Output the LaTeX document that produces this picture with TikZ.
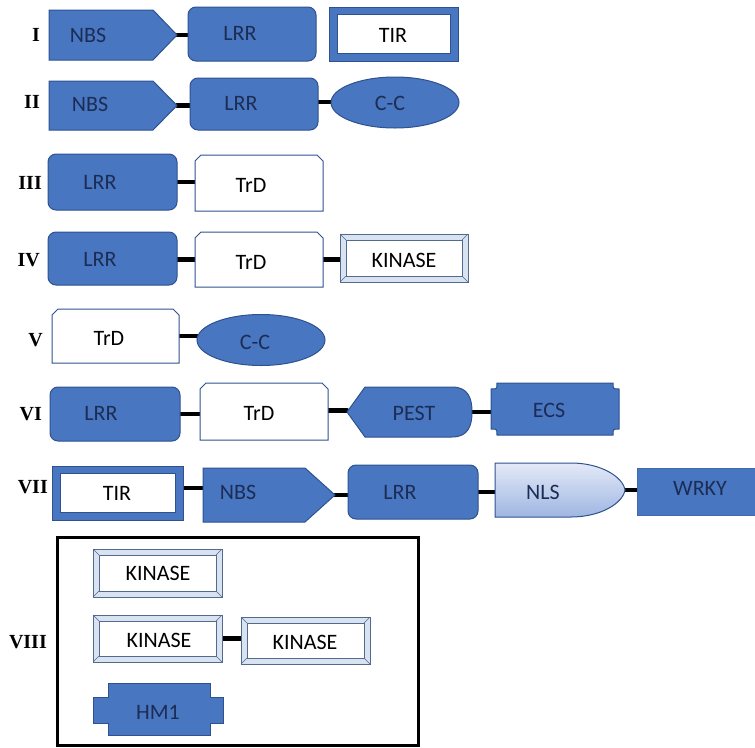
\documentclass[tikz,border=0pt]{standalone}
\usepackage{fontspec}
\setmainfont{Carlito}
\newfontfamily\romfont{Liberation Serif}
\usetikzlibrary{calc}
\definecolor{bfill}{RGB}{72,118,192}
\definecolor{bline}{RGB}{47,82,143}
\definecolor{btext}{RGB}{28,45,85}
\definecolor{kline}{RGB}{82,106,142}
\definecolor{kband}{RGB}{216,226,240}
\definecolor{nlstop}{RGB}{228,233,247}
\definecolor{nlsbot}{RGB}{158,182,226}
\newcommand{\mkbox}[5]{\node[box, minimum width={#3-#2}, minimum height={#5-#4}] (#1) at ({(#2+#3)/2},{(#4+#5)/2}) {};}
\newcommand{\nbsshape}[2]{\draw[bluebox] (#1.north west) -- ($(#1.north east)+(-#2,0)$) -- (#1.east) -- ($(#1.south east)+(-#2,0)$) -- (#1.south west) -- cycle;}
\newcommand{\lrrshape}[1]{\draw[bluebox, rounded corners=8pt] (#1.north west) rectangle (#1.south east);}
\newcommand{\tirshape}[1]{\draw[bluebox] (#1.north west) rectangle (#1.south east);
  \draw[fill=white, draw=bline, line width=0.8pt] ($(#1.north west)+(8,7)$) rectangle ($(#1.south east)+(-8,-8)$);}
\newcommand{\trdshape}[1]{\draw[fill=white, draw=bline, line width=1pt] (#1.south west) -- ($(#1.north west)+(0,6)$) -- ($(#1.north west)+(6,0)$) -- ($(#1.north east)+(-6,0)$) -- ($(#1.north east)+(0,6)$) -- (#1.south east) -- cycle;}
\newcommand{\kinshape}[1]{\draw[fill=kband, draw=kline, line width=0.9pt] (#1.north west) rectangle (#1.south east);
  \draw[fill=white, draw=kline, line width=0.9pt] ($(#1.north west)+(6,6)$) rectangle ($(#1.south east)+(-6,-6)$);
  \draw[kline, line width=0.6pt] (#1.north west) -- ++(6,6) (#1.north east) -- ++(-6,6) (#1.south west) -- ++(6,-6) (#1.south east) -- ++(-6,-6);}
\newcommand{\ccshape}[1]{\draw[bluebox] (#1.center) ellipse [x radius=64, y radius=25.5];}
\begin{document}
\begin{tikzpicture}[x=1pt,y=-1pt,
  box/.style={rectangle, inner sep=0pt, outer sep=0pt, draw=none},
  bluebox/.style={fill=bfill, draw=bline, line width=1pt},
  conn/.style={line width=4.5pt, line cap=round, black},
  btxt/.style={inner sep=0pt, text=btext, font=\fontsize{22}{26}\selectfont},
  ktxt/.style={inner sep=0pt, text=black, font=\fontsize{22}{26}\selectfont},
  rom/.style={inner sep=0pt, anchor=east, text=black, font=\romfont\bfseries\fontsize{20}{24}\selectfont}]
\useasboundingbox (0,0) rectangle (755,747);
% ---- boxes (invisible anchors)
\mkbox{nbsA}{49}{177}{10}{60}
\mkbox{lrrA}{188}{316}{7}{61}
\mkbox{tirA}{329}{458}{7}{61}
\mkbox{nbsB}{49}{177}{81}{130}
\mkbox{lrrB}{190}{318}{78}{130}
\mkbox{ccB}{331}{459}{77}{128}
\mkbox{lrrC}{48}{177}{154}{210}
\mkbox{trdC}{195}{323}{155}{211}
\mkbox{lrrD}{48}{177}{232}{285}
\mkbox{trdD}{195}{323}{232}{287}
\mkbox{kinD}{340}{468}{234}{282}
\mkbox{trdE}{52}{179}{309}{363}
\mkbox{ccE}{197}{325}{313}{367}
\mkbox{lrrF}{50}{180}{387}{441}
\mkbox{trdF}{200}{328}{383}{440}
\mkbox{pestF}{347}{472}{387}{437}
\mkbox{ecsF}{491}{619}{383}{435}
\mkbox{tirG}{52}{183}{466}{520}
\mkbox{nbsG}{203}{335}{468}{522}
\mkbox{lrrG}{348}{478}{465}{519}
\mkbox{nlsG}{495}{625}{463}{517}
\mkbox{wrkyG}{637}{758}{468}{515}
\mkbox{frameH}{57}{418}{537}{745}
\mkbox{kinHa}{93}{222}{549}{597}
\mkbox{kinHb}{93}{222}{615}{662}
\mkbox{kinHc}{241}{370}{617}{664}
\mkbox{hmH}{93}{223}{683}{735}
% ---- connectors (under shapes)
\draw[conn] (nbsA.east) -- (nbsA.east -| lrrA.west);
\draw[conn] (nbsB.east) -- (nbsB.east -| lrrB.west);
\draw[conn] ($(lrrB.east)+(0,-2)$) -- ($(lrrB.east -| ccB.west)+(0,-2)$);
\draw[conn] (lrrC.east) -- (lrrC.east -| trdC.west);
\draw[conn] ($(lrrD.east)+(0,1)$) -- ($(lrrD.east -| trdD.west)+(0,1)$);
\draw[conn] (trdD.east) -- (trdD.east -| kinD.west);
\draw[conn] (trdE.east) -- (trdE.east -| ccE.west);
\draw[conn] (lrrF.east) -- (lrrF.east -| trdF.west);
\draw[conn] ($(trdF.east)+(0,-1)$) -- ($(trdF.east -| pestF.west)+(0,-1)$);
\draw[conn] (pestF.east) -- (pestF.east -| ecsF.west);
\draw[conn] ($(tirG.east)+(0,-5)$) -- ($(tirG.east -| nbsG.west)+(0,-5)$);
\draw[conn] (nbsG.east) -- (nbsG.east -| lrrG.west);
\draw[conn] (lrrG.east) -- (lrrG.east -| nlsG.west);
\draw[conn] (nlsG.east) -- (nlsG.east -| wrkyG.west);
\draw[conn] (kinHb.east) -- (kinHb.east -| kinHc.west);
% ---- shapes
\nbsshape{nbsA}{24}
\lrrshape{lrrA}
\tirshape{tirA}
\nbsshape{nbsB}{24}
\lrrshape{lrrB}
\ccshape{ccB}
\lrrshape{lrrC}
\trdshape{trdC}
\lrrshape{lrrD}
\trdshape{trdD}
\kinshape{kinD}
\trdshape{trdE}
\ccshape{ccE}
\lrrshape{lrrF}
\trdshape{trdF}
\draw[bluebox] (pestF.west) -- ($(pestF.north west)+(18,0)$) -- ($(pestF.north east)+(-20,0)$)
  .. controls ($(pestF.north east)+(-4,0)$) and ($(pestF.east)+(0,-14)$) .. (pestF.east)
  .. controls ($(pestF.east)+(0,14)$) and ($(pestF.south east)+(-4,0)$) .. ($(pestF.south east)+(-20,0)$)
  -- ($(pestF.south west)+(18,0)$) -- cycle;
\draw[bluebox] ($(ecsF.north west)+(6,0)$) -- ($(ecsF.north east)+(-6,0)$)
  .. controls ($(ecsF.north east)+(-6,6)$) .. ($(ecsF.north east)+(0,6)$)
  -- ($(ecsF.south east)+(0,-6)$)
  .. controls ($(ecsF.south east)+(-6,-6)$) .. ($(ecsF.south east)+(-6,0)$)
  -- ($(ecsF.south west)+(6,0)$)
  .. controls ($(ecsF.south west)+(6,-6)$) .. ($(ecsF.south west)+(0,-6)$)
  -- ($(ecsF.north west)+(0,6)$)
  .. controls ($(ecsF.north west)+(6,6)$) .. cycle;
\tirshape{tirG}
\nbsshape{nbsG}{30}
\lrrshape{lrrG}
\draw[top color=nlstop, bottom color=nlsbot, draw=bline, line width=1pt]
  (nlsG.south west) -- (nlsG.north west) -- ($(nlsG.north east)+(-54,0)$)
  .. controls ($(nlsG.north east)+(-24,0)$) and ($(nlsG.east)+(-2,-13)$) .. (nlsG.east)
  .. controls ($(nlsG.east)+(-2,13)$) and ($(nlsG.south east)+(-24,0)$) .. ($(nlsG.south east)+(-54,0)$)
  -- cycle;
\draw[fill=bfill, draw=bfill!90!black, line width=0.6pt] (wrkyG.north west) rectangle (wrkyG.south east);
\draw[black, line width=3pt] (frameH.north west) rectangle (frameH.south east);
\kinshape{kinHa}
\kinshape{kinHb}
\kinshape{kinHc}
\draw[bluebox] ($(hmH.north west)+(15,0)$) -- ($(hmH.north east)+(-13,0)$) -- ($(hmH.north east)+(-13,14)$)
  -- ($(hmH.north east)+(0,14)$) -- ($(hmH.south east)+(0,-12)$) -- ($(hmH.south east)+(-13,-12)$)
  -- ($(hmH.south east)+(-13,0)$) -- ($(hmH.south west)+(15,0)$) -- ($(hmH.south west)+(15,-12)$)
  -- ($(hmH.south west)+(0,-12)$) -- ($(hmH.north west)+(0,14)$) -- ($(hmH.north west)+(15,14)$) -- cycle;
% ---- texts
\node[btxt] (tNbsA) at (88,35) {NBS};
\node[btxt] (tLrrA) at (240,33) {LRR};
\node[ktxt] (tTirA) at (393,35) {TIR};
\node[btxt] (tNbsB) at (90,104) {NBS};
\node[btxt] (tLrrB) at (241,103) {LRR};
\node[btxt] (tCcB) at (390,103) {C-C};
\node[btxt] (tLrrC) at (100,182) {LRR};
\node[ktxt] (tTrdC) at (251,185) {TrD};
\node[btxt] (tLrrD) at (100,259) {LRR};
\node[ktxt] (tTrdD) at (251,262) {TrD};
\node[ktxt] (tKinD) at (404,260) {KINASE};
\node[ktxt] (tTrdE) at (109,338) {TrD};
\node[btxt] (tCcE) at (255,342) {C-C};
\node[btxt] (tLrrF) at (101,413) {LRR};
\node[ktxt] (tTrdF) at (259,413) {TrD};
\node[btxt] (tPestF) at (414,413) {PEST};
\node[btxt] (tEcsF) at (549,410) {ECS};
\node[ktxt] (tTirG) at (117,493) {TIR};
\node[btxt] (tNbsG) at (238,492) {NBS};
\node[btxt] (tLrrG) at (400,492) {LRR};
\node[btxt] (tNlsG) at (543,492) {NLS};
\node[btxt] (tWrkyG) at (700,488) {WRKY};
\node[ktxt] (tKinHa) at (158,573) {KINASE};
\node[ktxt] (tKinHb) at (159,640) {KINASE};
\node[ktxt] (tKinHc) at (305,642) {KINASE};
\node[btxt] (tHmH) at (158,712) {HM1};
% ---- roman labels
\node[rom] (rI) at (40,35) {I};
\node[rom] (rII) at (40,102) {II};
\node[rom] (rIII) at (42,183) {III};
\node[rom] (rIV) at (40,260) {IV};
\node[rom] (rV) at (43,340) {V};
\node[rom] (rVI) at (42,414) {VI};
\node[rom] (rVII) at (48,487) {VII};
\node[rom] (rVIII) at (47,642) {VIII};
\end{tikzpicture}
\end{document}
